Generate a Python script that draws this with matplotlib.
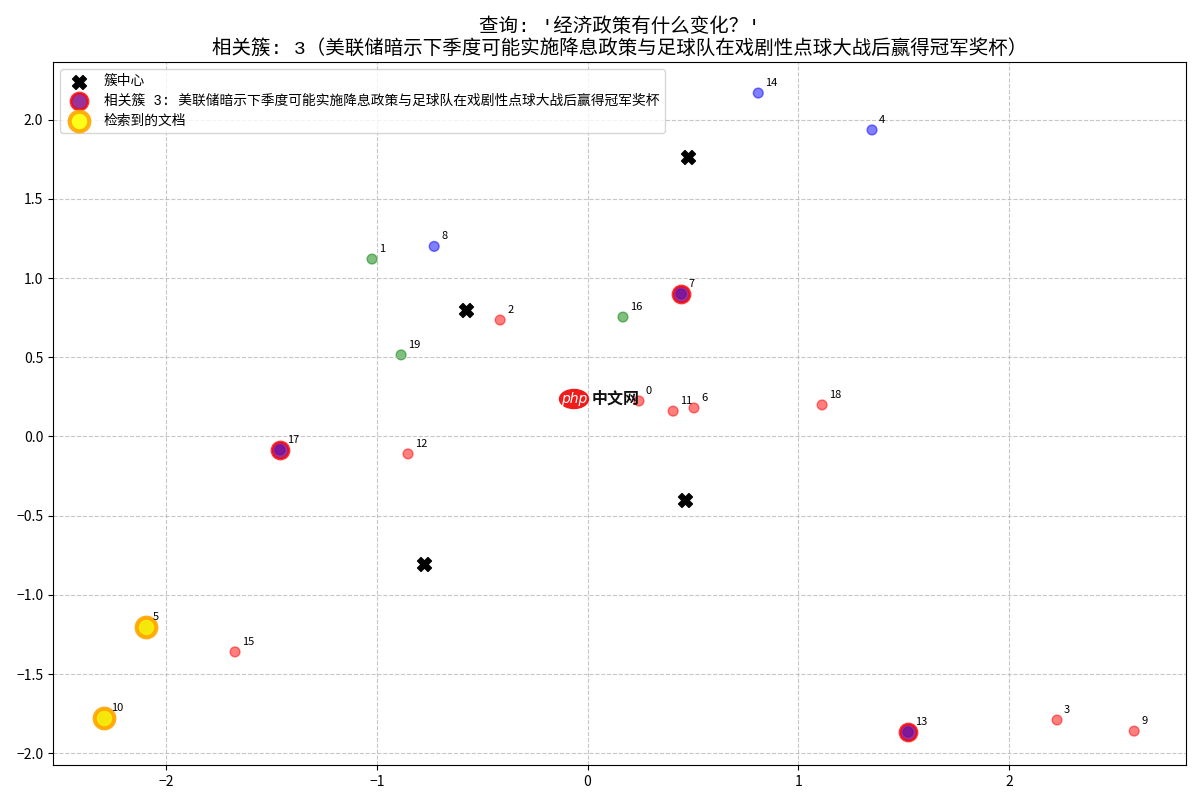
import matplotlib
matplotlib.use("Agg")
import matplotlib.pyplot as plt
from matplotlib.patches import Ellipse
import numpy as np

plt.rcParams["font.family"] = ["Noto Sans CJK SC", "DejaVu Sans"]
WIDE_LATIN = ["Liberation Mono", "Noto Sans CJK SC"]

# document coordinates, index = document number
doc_x = [0.244, -1.023, -0.415, 2.228, 1.35, -2.095, 0.505, 0.444, -0.728, 2.594,
         -2.295, 0.406, -0.852, 1.521, 0.81, -1.673, 0.168, -1.46, 1.113, -0.885]
doc_y = [0.224, 1.12, 0.735, -1.79, 1.935, -1.203, 0.18, 0.9, 1.2, -1.86,
         -1.777, 0.16, -0.11, -1.866, 2.168, -1.36, 0.754, -0.085, 0.199, 0.515]
doc_colors = ["red", "green", "red", "red", "blue", "red", "red", "blue", "blue", "red",
              "red", "red", "red", "blue", "blue", "red", "green", "blue", "red", "green"]

center_x = [0.477, -0.577, 0.463, -0.776]
center_y = [1.765, 0.80, -0.40, -0.805]

relevant_idx = [5, 7, 10, 13, 17]
retrieved_idx = [5, 10]

title_text = "查询: '经济政策有什么变化？'\n相关簇: 3（美联储暗示下季度可能实施降息政策与足球队在戏剧性点球大战后赢得冠军奖杯）"
relevant_label = "相关簇 3: 美联储暗示下季度可能实施降息政策与足球队在戏剧性点球大战后赢得冠军奖杯"

x = np.array(doc_x)
y = np.array(doc_y)

fig, ax = plt.subplots(figsize=(12, 8))
ax.scatter(x, y, c=doc_colors, s=50, alpha=0.5)
ax.scatter(center_x, center_y, c="black", marker="X", s=100, label="簇中心")
ax.scatter(x[relevant_idx], y[relevant_idx], c="purple", s=150, alpha=0.8,
           edgecolors="red", linewidths=2, label=relevant_label)
ax.scatter(x[retrieved_idx], y[retrieved_idx], c="yellow", s=200, alpha=0.9,
           edgecolors="orange", linewidths=3, label="检索到的文档")

for i in range(len(x)):
    ax.annotate(str(i), (x[i], y[i]), xytext=(5, 5), textcoords="offset points", fontsize=8)

ax.set_xlim(-2.537, 2.84)
ax.set_ylim(-2.074, 2.364)
ax.set_xticks([-2, -1, 0, 1, 2])
ax.grid(True, linestyle="--", alpha=0.7)
ax.legend(loc="upper left", prop={"family": WIDE_LATIN, "size": 9.9}, labelspacing=0.4)
ax.set_title(title_text, fontsize=14, family=WIDE_LATIN)
fig.subplots_adjust(left=53 / 1200, right=1186 / 1200, top=1 - 62 / 800, bottom=1 - 765 / 800)

# site watermark over the plot
fig.add_artist(Ellipse((574 / 1200, 1 - 399 / 800), 29 / 1200, 19 / 800, color="#f01c1c", zorder=10))
fig.text(574 / 1200, 1 - 399 / 800, "php", color="white", fontsize=10, style="italic",
         family="DejaVu Sans", ha="center", va="center", zorder=11)
fig.text(615.5 / 1200, 1 - 399 / 800, "中文网", color="#111111", fontsize=11.5, weight="bold",
         ha="center", va="center", zorder=11)

fig.savefig("out.png", dpi=100)
